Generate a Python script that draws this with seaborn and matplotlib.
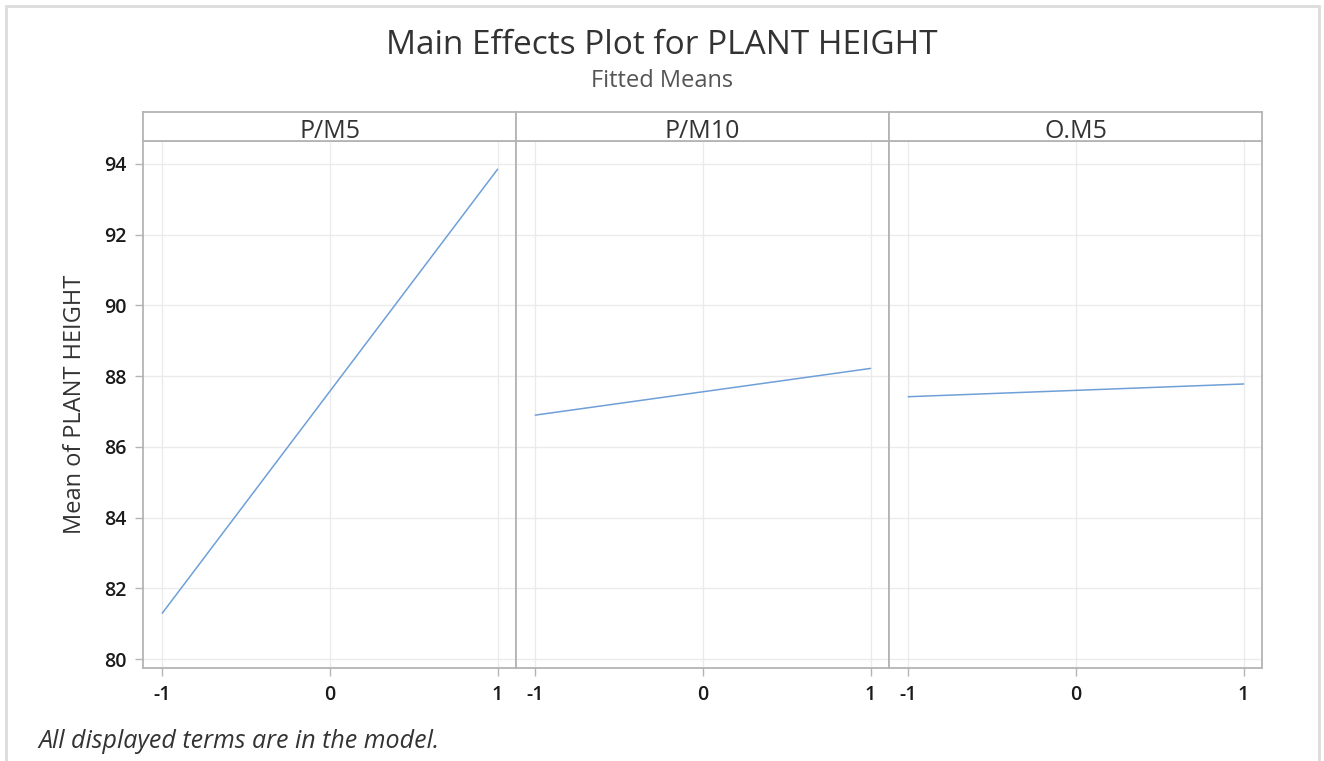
import matplotlib
matplotlib.use("Agg")
import matplotlib.pyplot as plt
import seaborn as sns
import pandas as pd
from matplotlib.patches import Rectangle

factors = ["P/M5", "P/M10", "O.M5"]
levels = [-1, 1]
pm5_means = [81.3, 93.85]
pm10_means = [86.9, 88.22]
om5_means = [87.42, 87.78]
y_ticks = [80, 82, 84, 86, 88, 90, 92, 94]
x_ticks = [-1, 0, 1]

series = {"P/M5": pm5_means, "P/M10": pm10_means, "O.M5": om5_means}
df = pd.DataFrame([
    {"factor": f, "level": lv, "mean": m}
    for f in factors for lv, m in zip(levels, series[f])
])

sns.set_theme(style="white")
plt.rcParams["font.family"] = ["Open Sans", "DejaVu Sans"]

fig = plt.figure(figsize=(13.24, 7.61), dpi=100)
W, H = 1324, 761
left_px, right_px = 143, 1262
top_px, bottom_px, strip_top_px = 141, 668, 112
pw = (right_px - left_px) / 3

spine_col = "#b4b4b4"
grid_col = "#ebebeb"
line_col = "#6f9fd8"

axes = []
for i, f in enumerate(factors):
    x0 = left_px + i * pw
    ax = fig.add_axes([x0 / W, 1 - bottom_px / H, pw / W, (bottom_px - top_px) / H])
    sns.lineplot(data=df[df["factor"] == f], x="level", y="mean", ax=ax,
                 color=line_col, linewidth=1.1, errorbar=None)
    ax.set_xlim(-1.115, 1.11)
    ax.set_ylim(79.75, 94.65)
    ax.set_xticks(x_ticks)
    ax.set_xticklabels([str(t) for t in x_ticks])
    ax.set_yticks(y_ticks)
    ax.grid(True, color=grid_col, linewidth=1)
    ax.set_xlabel("")
    ax.set_ylabel("")
    for s in ax.spines.values():
        s.set_color(spine_col)
        s.set_linewidth(1.3)
    ax.tick_params(axis="both", which="both", length=6, color=spine_col, width=1,
                   labelsize=14, labelcolor="#1a1a1a", direction="out",
                   bottom=True, left=(i == 0), pad=6)
    for lab in ax.get_xticklabels() + ax.get_yticklabels():
        lab.set_fontweight("semibold")
    if i > 0:
        ax.tick_params(labelleft=False)
    axes.append(ax)

    # strip
    sax = fig.add_axes([x0 / W, 1 - top_px / H, pw / W, (top_px - strip_top_px) / H])
    sax.set_xticks([]); sax.set_yticks([])
    for s in sax.spines.values():
        s.set_color(spine_col)
        s.set_linewidth(1.3)
    sax.text(0.5, -0.1, f, ha="center", va="bottom", fontsize=18, color="#333333",
             transform=sax.transAxes)

axes[0].set_ylabel("Mean of PLANT HEIGHT", fontsize=17, color="#333333", labelpad=12)

fig.text(0.5, 1 - 45 / H, "Main Effects Plot for PLANT HEIGHT", ha="center", va="center",
         fontsize=24, color="#333333")
fig.text(0.5, 1 - 81 / H, "Fitted Means", ha="center", va="center",
         fontsize=17, color="#555555")
fig.text(38 / W, 1 - 742 / H, "All displayed terms are in the model.", ha="left", va="center",
         fontsize=18, style="italic", color="#333333")

# outer frame
fig.patches.append(Rectangle((6 / W, -0.01), (1319 - 6) / W, (761 - 6) / H + 0.01,
                             transform=fig.transFigure, fill=False,
                             edgecolor="#dcdcdc", linewidth=2))

fig.savefig("out.png", dpi=100)
